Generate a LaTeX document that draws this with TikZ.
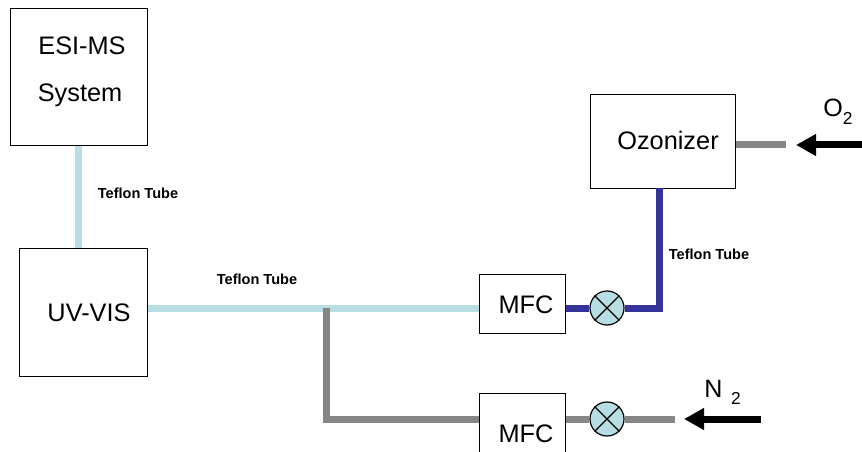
\documentclass[tikz,border=0pt]{standalone}
\usepackage{fontspec}
\setmainfont{Liberation Sans}
\usetikzlibrary{arrows.meta}
\definecolor{tubelight}{HTML}{B7DEE2}
\definecolor{tubeblue}{HTML}{333399}
\definecolor{tubegray}{HTML}{868686}
\newcommand{\gaslabel}[3]{\fontsize{18.8}{20}\selectfont #1\hspace{#3}\raisebox{-5.5pt}{\fontsize{13}{14}\selectfont #2}}
\tikzset{
  unitbox/.style={draw=black,line width=1pt,fill=white,inner sep=0pt,anchor=north west},
  big/.style={font=\fontsize{19}{20}\selectfont,inner sep=0pt,anchor=base},
  small/.style={font=\bfseries\fontsize{10.9}{12}\selectfont,inner sep=0pt,anchor=base},
  tube/.style={line width=5.25pt},
  lighttube/.style={tube,draw=tubelight},
  bluetube/.style={tube,draw=tubeblue},
  graytube/.style={tube,draw=tubegray},
  valve/.style={circle,draw=black,line width=0.9pt,fill=tubelight,minimum size=25.5pt,inner sep=0pt},
  feed/.style={line width=5.25pt,draw=black,-{Triangle[length=15pt,width=15.5pt]}},
}
\begin{document}
\begin{tikzpicture}[x=0.75pt,y=-0.75pt]
\useasboundingbox (0,0) rectangle (862,452);
\clip (0,0) rectangle (862,452);
% unit boxes
\node[unitbox,minimum width=102.75pt,minimum height=102.75pt] (esi) at (10,8) {};
\node[unitbox,minimum width=96.4pt,minimum height=96pt] (uv) at (18.5,248) {};
\node[unitbox,minimum width=64.5pt,minimum height=44.6pt] (mfca) at (479,273.5) {};
\node[unitbox,minimum width=64.5pt,minimum height=60pt] (mfcb) at (479,393) {};
\node[unitbox,minimum width=108.6pt,minimum height=70.5pt] (oz) at (590,94) {};
\node[valve] (va) at (607,308) {};
\node[valve] (vb) at (607,419) {};
\foreach \v in {va,vb}{
  \draw[line width=0.9pt] (\v.45) -- (\v.225) (\v.135) -- (\v.315);
}
% junctions and free ends
\coordinate (j) at (326,308);
\coordinate (jb) at (326,419);
\coordinate (bend) at (659,308);
\coordinate (ozb) at (659,188);
\coordinate (ozin) at (786,145);
\coordinate (nin) at (675,419);
\coordinate (oa) at (862,145);
\coordinate (ob) at (796,145);
\coordinate (na) at (761,419);
\coordinate (nb) at (684,419);
% tubes
\draw[lighttube] (esi.south -| 78.5,0) -- (uv.north -| 78.5,0);
\draw[lighttube] (uv.east |- j) -- (mfca.west |- j);
\draw[graytube,line join=miter] (j) -- (jb) -- (mfcb.west |- jb);
\draw[bluetube] (mfca.east |- va) -- (va.west);
\draw[bluetube,line join=miter] (va.east) -- (bend) -- (ozb);
\draw[graytube] (mfcb.east |- vb) -- (vb.west);
\draw[graytube] (vb.east) -- (nin);
\draw[graytube] (oz.east |- ozin) -- (ozin);
% supply arrows
\draw[feed] (oa) -- (ob);
\draw[feed] (na) -- (nb);
% labels
\node[big] (t1) at (82,55) {ESI-MS};
\node[big] (t2) at (80,102) {System};
\node[big] (t3) at (89,321) {UV-VIS};
\node[big] (t4) at (526,313) {MFC};
\node[big] (t5) at (526,442) {MFC};
\node[big] (t6) at (668,150) {Ozonizer};
\node[small] (t7) at (138,199) {Teflon Tube};
\node[small] (t8) at (257,284) {Teflon Tube};
\node[small] (t9) at (709,259) {Teflon Tube};
\node[inner sep=0pt,anchor=base west] (t10) at (823,117) {\gaslabel{O}{2}{0pt}};
\node[inner sep=0pt,anchor=base west] (t11) at (704,397) {\gaslabel{N}{2}{6.5pt}};
\end{tikzpicture}
\end{document}
